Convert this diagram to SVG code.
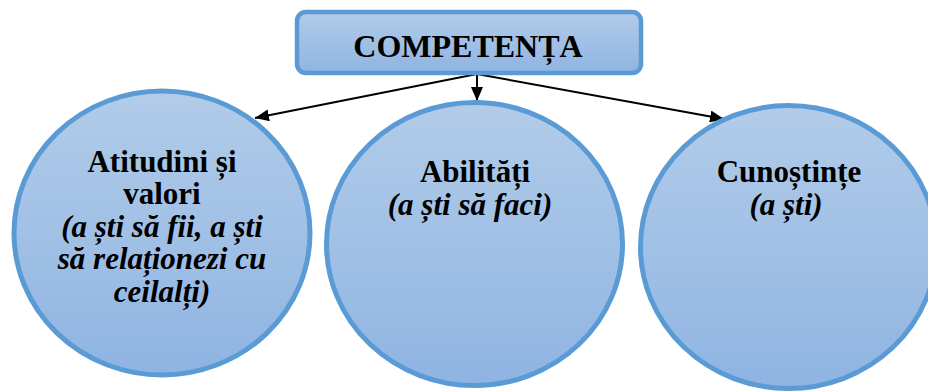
<svg xmlns="http://www.w3.org/2000/svg" width="928" height="392" viewBox="0 0 928 392">
<defs>
<linearGradient id="g" x1="0" y1="0" x2="0" y2="1">
<stop offset="0" stop-color="#b2cce9"/>
<stop offset="1" stop-color="#8fb4e2"/>
</linearGradient>
<marker id="ah" viewBox="0 0 14 12" refX="14" refY="6" markerWidth="14" markerHeight="12" markerUnits="userSpaceOnUse" orient="auto">
<path d="M0,0 L14,6 L0,12 Z" fill="#000"/>
</marker>
<style>
.shape{fill:url(#g);stroke:#5b9bd5;stroke-width:5}
.conn{stroke:#000;stroke-width:2;fill:none}
text{font-family:"Liberation Serif","Times New Roman",serif;font-weight:bold;fill:#000;text-anchor:middle;font-size:31px}
.i{font-style:italic}
.title{font-size:32px}
</style>
</defs>
<rect width="928" height="392" fill="#fff"/>
<g id="connectors">
<line class="conn" x1="477" y1="74" x2="477" y2="101" marker-end="url(#ah)"/>
<line class="conn" x1="477" y1="74" x2="255" y2="118" marker-end="url(#ah)"/>
<line class="conn" x1="477" y1="74" x2="724" y2="119" marker-end="url(#ah)"/>
</g>
<g id="node-competenta">
<rect class="shape" x="297" y="12" width="344" height="61" rx="9" style="stroke-width:4.5"/>
<text class="title" x="468" y="57">COMPETENȚA</text>
</g>
<g id="node-atitudini">
<ellipse class="shape" cx="162" cy="233" rx="148" ry="142"/>
<text x="162" y="172">Atitudini și</text>
<text x="162" y="204">valori</text>
<text class="i" x="162" y="237">(a ști să fii, a ști</text>
<text class="i" x="162" y="269">să relaționezi cu</text>
<text class="i" x="162" y="302">ceilalți)</text>
</g>
<g id="node-abilitati">
<ellipse class="shape" cx="474.5" cy="244" rx="148" ry="141.5"/>
<text x="475" y="182">Abilități</text>
<text class="i" x="470" y="215">(a ști să faci)</text>
</g>
<g id="node-cunostinte">
<ellipse class="shape" cx="788.5" cy="247" rx="148" ry="141.5"/>
<text x="789" y="182">Cunoștințe</text>
<text class="i" x="786" y="215">(a ști)</text>
</g>
</svg>
